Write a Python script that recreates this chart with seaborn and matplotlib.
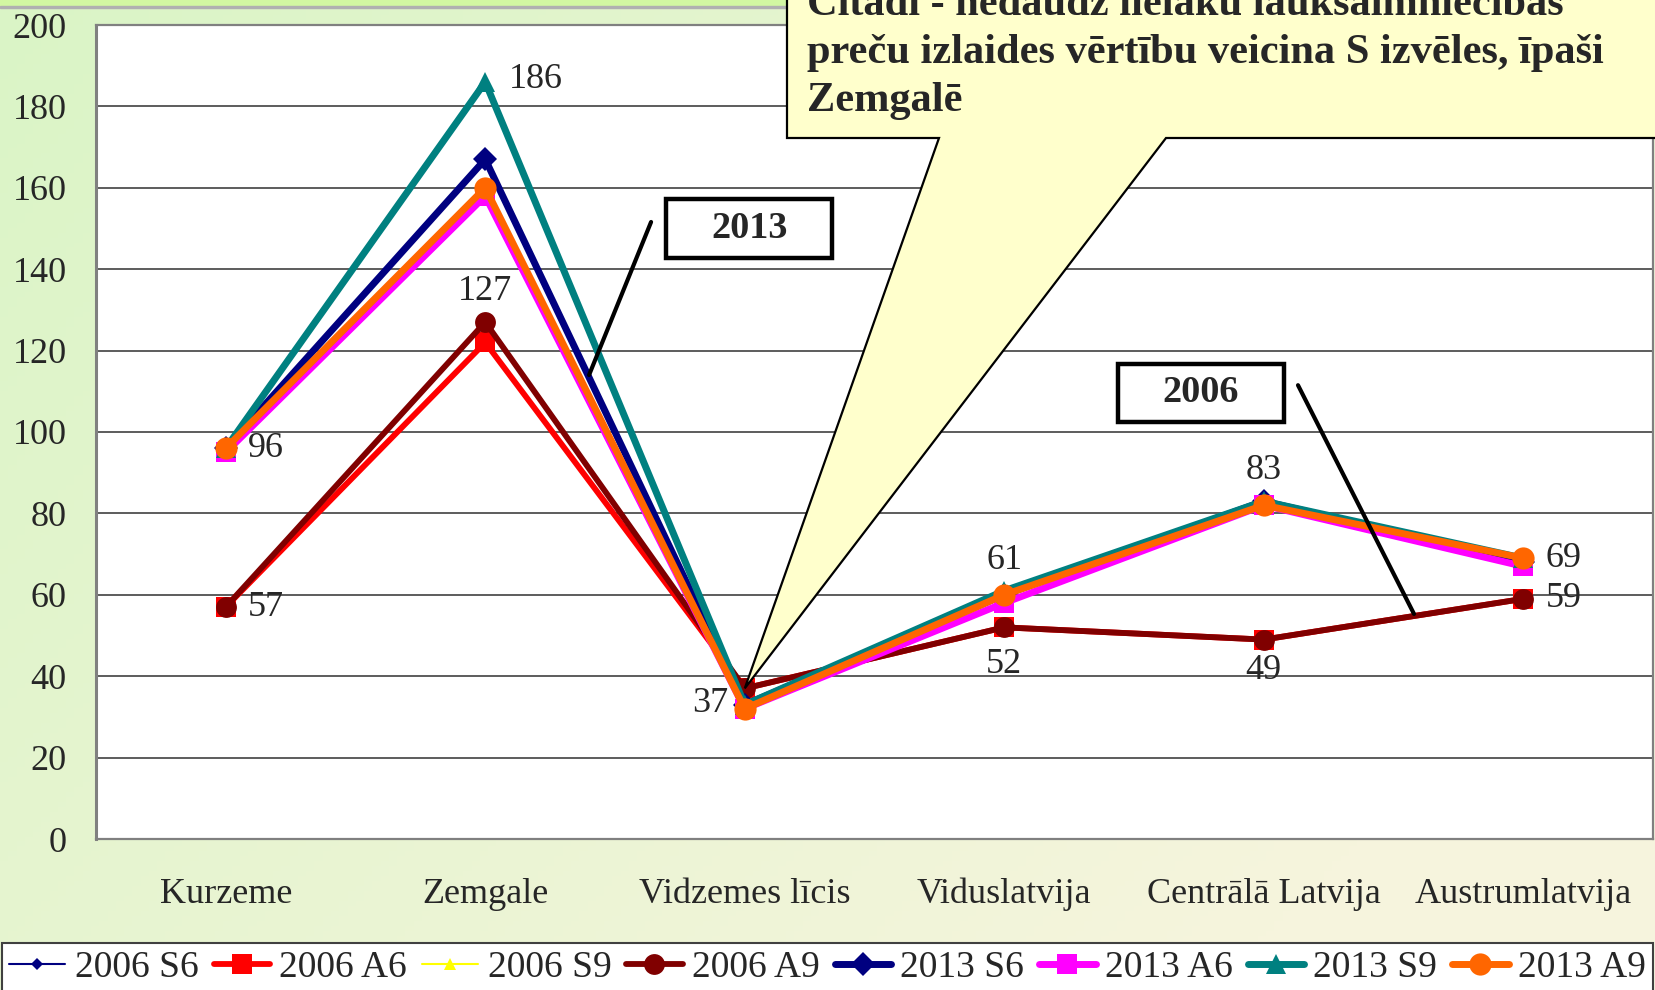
import numpy as np
import pandas as pd
import seaborn as sns
from matplotlib import pyplot as plt
from matplotlib.patches import Polygon, Rectangle

sns.set_style('white')
plt.rcParams['font.family'] = ['Liberation Serif', 'DejaVu Serif']

# data
regions = ['Kurzeme', 'Zemgale', 'Vidzemes līcis', 'Viduslatvija',
           'Centrālā Latvija', 'Austrumlatvija']
s2006_s6 = [57, 122, 37, 52, 49, 59]
s2006_a6 = [57, 122, 37, 52, 49, 59]
s2006_s9 = [57, 127, 37, 52, 49, 59]
s2006_a9 = [57, 127, 37, 52, 49, 59]
s2013_s6 = [96, 167, 33, 60, 83, 68]
s2013_a6 = [95, 158, 32, 58, 82, 67]
s2013_s9 = [96, 186, 33, 61, 83, 69]
s2013_a9 = [96, 160, 32, 60, 82, 69]

series = {
    '2006 S6': s2006_s6, '2006 A6': s2006_a6,
    '2006 S9': s2006_s9, '2006 A9': s2006_a9,
    '2013 S6': s2013_s6, '2013 A6': s2013_a6,
    '2013 S9': s2013_s9, '2013 A9': s2013_a9,
}
# colour, linewidth, marker, markersize
styles = {
    '2006 S6': ('#000080', 1.5, 'D', 6),
    '2006 A6': ('#ff0000', 4.2, 's', 15),
    '2006 S9': ('#ffff00', 1.5, '^', 9),
    '2006 A9': ('#800000', 4.2, 'o', 15),
    '2013 S6': ('#000080', 5, 'D', 12),
    '2013 A6': ('#ff00ff', 5, 's', 15),
    '2013 S9': ('#008080', 5, '^', 15),
    '2013 A9': ('#ff6600', 5, 'o', 16),
}

df = pd.DataFrame(series)
df['pos'] = range(len(regions))

W, H = 1655, 990
fig = plt.figure(figsize=(W / 100, H / 100), dpi=100)

# background gradient
bg = fig.add_axes([0, 0, 1, 1], zorder=-10)
gx, gy = np.meshgrid(np.linspace(0, 1, 200), np.linspace(0, 1, 200))
t = np.clip(0.75 * gx + 0.45 * gy, 0, 1)[..., None]
c0 = np.array([218, 245, 198]) / 255
c1 = np.array([246, 244, 221]) / 255
bg.imshow(c0 * (1 - t) + c1 * t, aspect='auto', extent=[0, 1, 0, 1])
bg.axis('off')
fig.patches.append(Rectangle((0, 1 - 6 / H), 1, 6 / H, transform=fig.transFigure,
                             color='#d2f7a2', zorder=-5))
fig.patches.append(Rectangle((0, 1 - 8 / H), 1, 2 / H, transform=fig.transFigure,
                             color='#b0b0b0', zorder=-5))

ax = fig.add_axes([96 / W, 1 - 839 / H, (1653 - 96) / W, (839 - 25) / H])
ax.set_facecolor('white')

for name in series:
    col, lw, mk, ms = styles[name]
    sns.lineplot(data=df, x='pos', y=name, ax=ax, color=col, linewidth=lw,
                 marker=mk, markersize=ms, markeredgewidth=0,
                 markeredgecolor=col, label=name)
if ax.get_legend():
    ax.get_legend().remove()

ax.set_xlim(-0.5, 5.5)
ax.set_ylim(0, 200)
ax.set_yticks(range(0, 201, 20))
ax.set_xticks(np.arange(-0.5, 5.5, 1))
ax.set_xticklabels([])
ax.set_xticks(range(len(regions)), minor=True)
ax.set_xticklabels(regions, minor=True)
ax.tick_params(axis='x', which='minor', length=0, pad=28, labelsize=26)
ax.tick_params(axis='x', which='major', length=9, width=1.5, color='#606060',
               direction='out')
ax.tick_params(axis='y', length=9, width=1.5, color='#606060', direction='out',
               pad=12, labelsize=26)
ax.set_xlabel('')
ax.set_ylabel('')
ax.yaxis.grid(True, color='#303030', linewidth=1.1)
ax.set_axisbelow(True)
for sp in ax.spines.values():
    sp.set_color('#808080')
    sp.set_linewidth(1.6)
ax.spines['left'].set_linewidth(2.2)

# data labels
place = {'right': (16, 0, 'left'), 'above': (0, 22, 'center'),
         'below': (0, -22, 'center'), 'left': (-12, -11, 'right'),
         'upright': (17, 2, 'left')}
top_pos = ['right', 'upright', None, 'above', 'above', 'right']
low_pos = ['right', 'above', 'left', 'below', 'below', 'right']
for i in range(len(regions)):
    for vals, p in ((s2013_s9, top_pos[i]), (s2006_a9, low_pos[i])):
        if p is None:
            continue
        dx, dy, ha = place[p]
        if p == 'below' and i == 3:
            dy = -27
        ax.annotate(str(vals[i]), (i, vals[i]), xytext=(dx, dy),
                    textcoords='offset points', ha=ha, va='center',
                    fontsize=26, zorder=20)

# year boxes with pointer lines
for label, cx, cy, lx, ly in (('2013', 2.018, 150.0, (1.639, 1.400), (151.6, 114.0)),
                              ('2006', 3.758, 109.6, (4.132, 4.579), (111.5, 55.3))):
    bw, bh = 166 / 259.5, 58 / 4.07
    ax.add_patch(Rectangle((cx - bw / 2, cy - bh / 2), bw, bh, facecolor='white',
                           edgecolor='black', linewidth=3.2, zorder=15))
    ax.text(cx, cy, label, ha='center', va='center', fontsize=27.5,
            fontweight='bold', zorder=16)
    ax.plot(lx, ly, color='black', linewidth=3, zorder=15)

# speech callout
fig.canvas.draw()
tip = fig.transFigure.inverted().transform(ax.transData.transform((2, 37)))
pts = [(787 / W, 1.05), (787 / W, 1 - 138 / H), (939 / W, 1 - 138 / H),
       tuple(tip), (1166 / W, 1 - 138 / H), (1.01, 1 - 138 / H), (1.01, 1.05)]
fig.patches.append(Polygon(pts, closed=True, transform=fig.transFigure,
                           facecolor='#ffffcc', edgecolor='black',
                           linewidth=1.6, zorder=10))
callout = ['Citādi - nedaudz lielāku lauksaimniecības',
           'preču izlaides vērtību veicina S izvēles, īpaši',
           'Zemgalē']
for line, by in zip(callout, (15, 63, 111)):
    fig.text(807 / W, 1 - by / H, line, ha='left', va='baseline', fontsize=30.5,
             fontweight='bold', zorder=11)

# legend
handles, labels = ax.get_legend_handles_labels()
leg = fig.legend(handles, labels, loc='upper left',
                 bbox_to_anchor=(0.001, 1 - 943 / H, 0.998, 0), mode='expand',
                 ncol=8, fontsize=27, handlelength=1.5, handletextpad=0.25,
                 columnspacing=0.3, borderaxespad=0, borderpad=0.2,
                 frameon=True, fancybox=False, framealpha=1)
leg.get_frame().set_edgecolor('#404040')
leg.get_frame().set_linewidth(1.5)

plt.savefig('out.png', dpi=100)
